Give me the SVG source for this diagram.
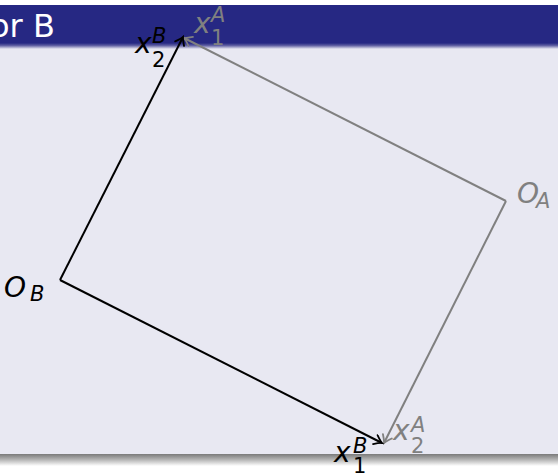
<svg xmlns="http://www.w3.org/2000/svg" width="558" height="476" viewBox="0 0 558 476">
<defs>
<style>
.lbl{font-family:"DejaVu Sans",sans-serif;font-style:italic;font-size:28px}
.scr{font-family:"DejaVu Sans",sans-serif;font-size:21px}
.sit{font-style:italic}
.blk{fill:#000}
.gry{fill:#808080}
.lnb{stroke:#000;stroke-width:2;fill:none}
.lng{stroke:#808080;stroke-width:2;fill:none}
</style>
<linearGradient id="hdrfade" x1="0" y1="0" x2="0" y2="1">
<stop offset="0" stop-color="#262883"/>
<stop offset="0.4" stop-color="#5c5ca0"/>
<stop offset="1" stop-color="#e8e8f2"/>
</linearGradient>
<linearGradient id="shadow" x1="0" y1="0" x2="0" y2="1">
<stop offset="0" stop-color="#7a7a7a"/>
<stop offset="0.5" stop-color="#b8b8b8"/>
<stop offset="1" stop-color="#ffffff"/>
</linearGradient>
<marker id="arrB" markerUnits="userSpaceOnUse" viewBox="-10 -6 12 12" refX="0" refY="0" markerWidth="12" markerHeight="12" orient="auto">
<path d="M-7.5,-5 Q-2.5,-1 0,0 Q-2.5,1 -7.5,5" stroke="#000" stroke-width="1.8" fill="none" stroke-linecap="round"/>
</marker>
<marker id="arrG" markerUnits="userSpaceOnUse" viewBox="-10 -6 12 12" refX="0" refY="0" markerWidth="12" markerHeight="12" orient="auto">
<path d="M-7.5,-5 Q-2.5,-1 0,0 Q-2.5,1 -7.5,5" stroke="#808080" stroke-width="1.8" fill="none" stroke-linecap="round"/>
</marker>
</defs>
<g id="background">
<rect x="0" y="0" width="558" height="476" fill="#ffffff"/>
<rect x="0" y="5" width="558" height="450" fill="#e8e8f2"/>
<rect x="0" y="5" width="558" height="39" fill="#262883"/>
<rect x="0" y="43" width="558" height="6" fill="url(#hdrfade)"/>
<rect x="0" y="454" width="558" height="12" fill="url(#shadow)"/>
<text x="-10" y="37" font-family="DejaVu Sans, sans-serif" font-size="32" fill="#ffffff">or B</text>
</g>
<g id="connectors">
<line class="lng" x1="506" y1="201" x2="184" y2="38" marker-end="url(#arrG)"/>
<line class="lng" x1="506" y1="201" x2="384" y2="443" marker-end="url(#arrG)"/>
<line class="lnb" x1="60" y1="280" x2="183" y2="37" marker-end="url(#arrB)"/>
<line class="lnb" x1="60" y1="280" x2="382" y2="443" marker-end="url(#arrB)"/>
</g>
<g id="node-OB">
<text class="lbl blk" x="4" y="297">O</text>
<text class="scr sit blk" x="30" y="301">B</text>
</g>
<g id="node-OA">
<text class="lbl gry" x="517" y="203">O</text>
<text class="scr sit gry" x="536" y="208">A</text>
</g>
<g id="node-x2B">
<text class="lbl blk" x="135" y="53">x</text>
<text class="scr sit blk" x="152" y="43">B</text>
<text class="scr blk" x="152" y="67">2</text>
</g>
<g id="node-x1A">
<text class="lbl gry" x="194" y="33">x</text>
<text class="scr sit gry" x="211" y="22">A</text>
<text class="scr gry" x="211" y="45">1</text>
</g>
<g id="node-x1B">
<text class="lbl blk" x="334" y="462">x</text>
<text class="scr sit blk" x="353" y="453">B</text>
<text class="scr blk" x="353" y="473">1</text>
</g>
<g id="node-x2A">
<text class="lbl gry" x="393" y="440">x</text>
<text class="scr sit gry" x="411" y="432">A</text>
<text class="scr gry" x="411" y="453">2</text>
</g>
</svg>
